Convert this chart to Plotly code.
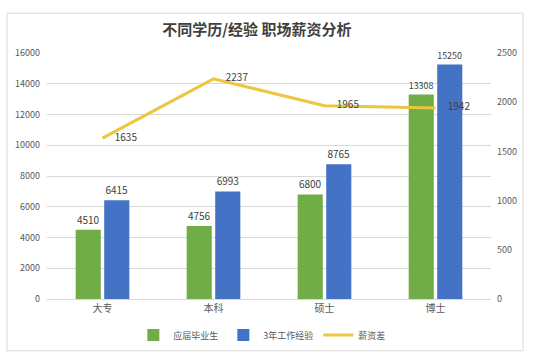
import plotly.graph_objects as go

categories = ["大专", "本科", "硕士", "博士"]
fresh_grad = [4510, 4756, 6800, 13308]
three_year = [6415, 6993, 8765, 15250]
salary_gap = [1635, 2237, 1965, 1942]

left_ticks = [0, 2000, 4000, 6000, 8000, 10000, 12000, 14000, 16000]
right_ticks = [0, 500, 1000, 1500, 2000, 2500]

FONT = "Noto Sans CJK SC, Noto Sans, sans-serif"
LABEL_COLOR = "#404040"
AXIS_COLOR = "#595959"

fig = go.Figure()
fig.add_trace(go.Bar(
    x=categories, y=fresh_grad, name="应届毕业生",
    marker=dict(color="#70AD47", line=dict(width=0)),
    text=[str(v) for v in fresh_grad], textposition="outside",
    textfont=dict(size=10, color=LABEL_COLOR, family=FONT),
    cliponaxis=False,
))
fig.add_trace(go.Bar(
    x=categories, y=three_year, name="3年工作经验",
    marker=dict(color="#4472C4", line=dict(width=0)),
    text=[str(v) for v in three_year], textposition="outside",
    textfont=dict(size=10, color=LABEL_COLOR, family=FONT),
    cliponaxis=False,
))
fig.add_trace(go.Scatter(
    x=categories, y=salary_gap, name="薪资差", yaxis="y2",
    mode="lines+markers+text",
    line=dict(color="#EBC63E", width=3),
    marker=dict(size=18, color="rgba(0,0,0,0)"),
    text=[str(v) for v in salary_gap], textposition="middle right",
    textfont=dict(size=10, color=LABEL_COLOR, family=FONT),
    cliponaxis=False,
))

fig.update_layout(
    width=533, height=360,
    margin=dict(l=47, r=42, t=53, b=60),
    paper_bgcolor="white", plot_bgcolor="white",
    font=dict(family=FONT, color=AXIS_COLOR, size=9),
    title=dict(text="<b>不同学历/经验 职场薪资分析</b>", x=0.482, y=0.917,
               xanchor="center", yanchor="middle",
               font=dict(size=15, color=LABEL_COLOR, family=FONT)),
    barmode="group", bargap=0.486, bargroupgap=0.12,
    xaxis=dict(showgrid=False, showline=True, linecolor="#D9D9D9",
               tickfont=dict(size=10, color=AXIS_COLOR), ticks=""),
    yaxis=dict(range=[0, 16000], tickvals=left_ticks, tickformat="d",
               showgrid=True, gridcolor="#D9D9D9", gridwidth=1, zeroline=False,
               tickfont=dict(size=9, color=AXIS_COLOR), ticklabelstandoff=6),
    yaxis2=dict(range=[0, 2500], tickvals=right_ticks, tickformat="d",
                overlaying="y", side="right", showgrid=False, zeroline=False,
                tickfont=dict(size=9, color=AXIS_COLOR), ticklabelstandoff=5),
    legend=dict(orientation="h", x=0.485, xanchor="center", y=-0.142,
                yanchor="middle", font=dict(size=9, color=AXIS_COLOR),
                traceorder="normal", itemwidth=30, tracegroupgap=0),
    shapes=[dict(type="rect", xref="paper", yref="paper",
                 x0=-0.09, x1=1.072, y0=-0.2105, y1=1.162,
                 line=dict(color="#D9D9D9", width=1), layer="below")],
    showlegend=True,
    hovermode=False,
)

fig.write_html("out.html", config={"displayModeBar": False},
               post_script="document.body.style.margin='0px';document.body.style.padding='0px';")
